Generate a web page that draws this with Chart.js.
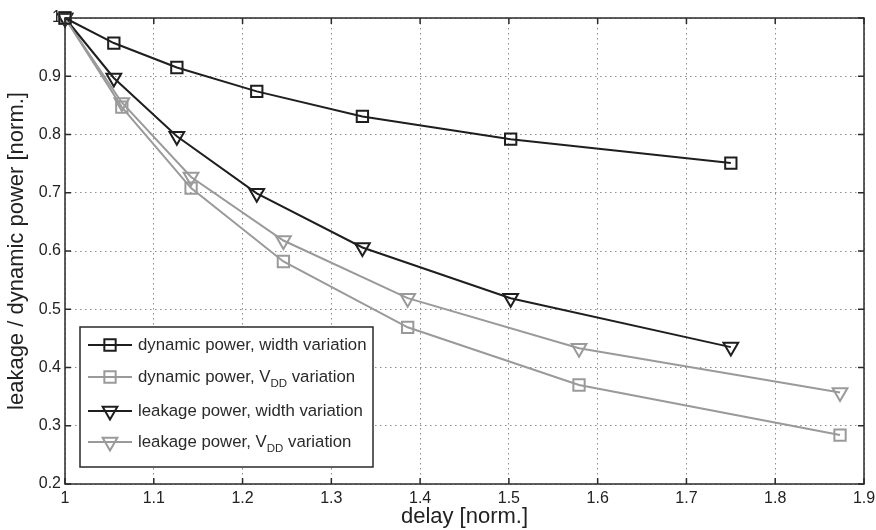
<!DOCTYPE html>
<html>
<head>
<meta charset="utf-8">
<script src="https://cdn.jsdelivr.net/npm/chart.js@4.4.1/dist/chart.umd.min.js"></script>
<style>
  html, body { margin: 0; padding: 0; background: #fff; }
  #wrap { width: 876px; height: 530px; }
</style>
</head>
<body>
<div id="wrap"><canvas id="powerChart" width="876" height="530"></canvas></div>
<script>
// delay values (normalised) for each sweep
const delayWidth = [1, 1.055, 1.126, 1.216, 1.335, 1.502, 1.750];
const delayVdd = [1, 1.064, 1.142, 1.246, 1.386, 1.579, 1.873];

// power values (normalised)
const dynWidth = [1, 0.957, 0.915, 0.874, 0.831, 0.792, 0.751];
const dynVdd = [1, 0.847, 0.708, 0.582, 0.469, 0.370, 0.284];
const leakWidth = [1, 0.897, 0.797, 0.699, 0.606, 0.519, 0.435];
const leakVdd = [1, 0.855, 0.727, 0.618, 0.519, 0.433, 0.357];

// legend texts (sub = subscript part)
const legendItems = [
    { pre: 'dynamic power, width variation', sub: '', post: '' },
    { pre: 'dynamic power, V', sub: 'DD', post: ' variation' },
    { pre: 'leakage power, width variation', sub: '', post: '' },
    { pre: 'leakage power, V', sub: 'DD', post: ' variation' }
];

const xTitle = 'delay [norm.]';
const yTitle = 'leakage / dynamic power [norm.]';

const BLACK = '#1e1e1e';
const GRAY = '#9a9a9a';
const FONT = "'Liberation Sans', Arial, Helvetica, sans-serif";

function toPoints(xs, ys) {
    return xs.map((x, i) => ({ x: x, y: ys[i] }));
}

function shortLabel(value) {
    return String(Number(value.toFixed(2)));
}

function makeSet(label, xs, ys, color, style) {
    return {
        label: label,
        data: toPoints(xs, ys),
        borderColor: color,
        borderWidth: 2,
        pointStyle: style,
        pointRadius: style === 'rect' ? 8 : 8.5,
        pointRotation: style === 'triangle' ? 180 : 0,
        pointBorderWidth: 2,
        pointBorderColor: color,
        pointBackgroundColor: 'rgba(0,0,0,0)',
        showLine: true,
        tension: 0,
        clip: false
    };
}

// frame with inward tick marks on all four sides
const framePlugin = {
    id: 'frame',
    afterDatasetsDraw(chart) {
        const { ctx, chartArea: a, scales } = chart;
        ctx.save();
        ctx.strokeStyle = '#2a2a2a';
        ctx.lineWidth = 1.5;
        ctx.strokeRect(a.left, a.top, a.right - a.left, a.bottom - a.top);
        ctx.beginPath();
        scales.x.ticks.forEach(t => {
            const px = scales.x.getPixelForValue(t.value);
            ctx.moveTo(px, a.bottom); ctx.lineTo(px, a.bottom - 6);
            ctx.moveTo(px, a.top); ctx.lineTo(px, a.top + 6);
        });
        scales.y.ticks.forEach(t => {
            const py = scales.y.getPixelForValue(t.value);
            ctx.moveTo(a.left, py); ctx.lineTo(a.left + 6, py);
            ctx.moveTo(a.right, py); ctx.lineTo(a.right - 6, py);
        });
        ctx.stroke();
        ctx.restore();
    }
};

function drawMarker(ctx, style, x, y, r) {
    ctx.beginPath();
    if (style === 'rect') {
        const s = Math.SQRT1_2 * r;
        ctx.rect(x - s, y - s, 2 * s, 2 * s);
    } else {
        ctx.moveTo(x, y + r);
        ctx.lineTo(x + Math.sin(Math.PI * 2 / 3) * r, y - r / 2);
        ctx.lineTo(x - Math.sin(Math.PI * 2 / 3) * r, y - r / 2);
        ctx.closePath();
    }
    ctx.stroke();
}

// legend box inside the plot, with subscripts
const legendPlugin = {
    id: 'boxLegend',
    afterDraw(chart) {
        const ctx = chart.ctx;
        const sets = chart.data.datasets;
        const box = { x: 80, y: 327, w: 293, h: 140 };
        const rows = [345, 377, 411, 442];
        ctx.save();
        ctx.fillStyle = '#fff';
        ctx.fillRect(box.x, box.y, box.w, box.h);
        ctx.strokeStyle = '#2a2a2a';
        ctx.lineWidth = 1.5;
        ctx.strokeRect(box.x, box.y, box.w, box.h);
        legendItems.forEach((item, i) => {
            const ds = sets[i];
            const y = rows[i];
            ctx.strokeStyle = ds.borderColor;
            ctx.lineWidth = 2;
            ctx.beginPath();
            ctx.moveTo(88, y); ctx.lineTo(132, y);
            ctx.stroke();
            drawMarker(ctx, ds.pointStyle, 110, y, ds.pointRadius);

            ctx.fillStyle = '#2a2a2a';
            ctx.textBaseline = 'middle';
            ctx.textAlign = 'left';
            ctx.font = '16.8px ' + FONT;
            let x = 138;
            ctx.fillText(item.pre, x, y);
            x += ctx.measureText(item.pre).width;
            if (item.sub) {
                ctx.font = '11.5px ' + FONT;
                ctx.fillText(item.sub, x, y + 7);
                x += ctx.measureText(item.sub).width;
                ctx.font = '16.8px ' + FONT;
                ctx.fillText(item.post, x, y);
            }
        });
        ctx.restore();
    }
};

const ctx1 = document.getElementById('powerChart').getContext('2d');
new Chart(ctx1, {
    type: 'line',
    data: {
        datasets: [
            makeSet('dynamic power, width variation', delayWidth, dynWidth, BLACK, 'rect'),
            makeSet('dynamic power, VDD variation', delayVdd, dynVdd, GRAY, 'rect'),
            makeSet('leakage power, width variation', delayWidth, leakWidth, BLACK, 'triangle'),
            makeSet('leakage power, VDD variation', delayVdd, leakVdd, GRAY, 'triangle')
        ]
    },
    options: {
        responsive: false,
        animation: false,
        devicePixelRatio: 1,
        layout: { padding: { top: 18, right: 12, bottom: 0, left: 0 } },
        plugins: {
            legend: { display: false },
            tooltip: { enabled: false }
        },
        scales: {
            x: {
                type: 'linear',
                min: 1,
                max: 1.9,
                ticks: { stepSize: 0.1, color: '#222', padding: 5, font: { size: 16, family: FONT }, callback: shortLabel },
                grid: { color: '#8c8c8c', lineWidth: 1, drawTicks: false },
                border: { display: false, dash: [1.5, 3.5] },
                title: { display: true, text: xTitle, color: '#222', font: { size: 22, family: FONT }, padding: { top: 0, bottom: 0 } },
                afterFit: (scale) => {
                    scale.height = 46;
                    scale.paddingLeft = 0;
                    scale.paddingRight = 0;
                }
            },
            y: {
                type: 'linear',
                min: 0.2,
                max: 1,
                ticks: { stepSize: 0.1, color: '#222', padding: 4, font: { size: 16, family: FONT }, callback: shortLabel },
                grid: { color: '#8c8c8c', lineWidth: 1, drawTicks: false },
                border: { display: false, dash: [1.5, 3.5] },
                title: { display: true, text: yTitle, color: '#222', font: { size: 22, family: FONT }, padding: { top: 4, bottom: 0 } },
                afterFit: (scale) => {
                    scale.width = 65;
                    scale.paddingTop = 0;
                    scale.paddingBottom = 0;
                }
            }
        }
    },
    plugins: [framePlugin, legendPlugin]
});
</script>
</body>
</html>
